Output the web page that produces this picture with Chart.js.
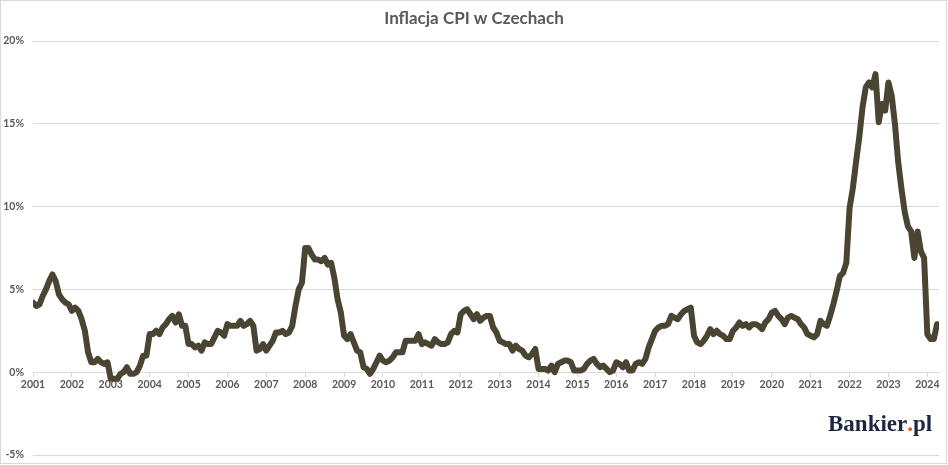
<!DOCTYPE html>
<html lang="pl">
<head>
<meta charset="utf-8">
<title>Inflacja CPI w Czechach</title>
<script src="https://cdn.jsdelivr.net/npm/chart.js@4.4.1/dist/chart.umd.min.js"></script>
<style>
  html, body { margin: 0; padding: 0; background: #fff; }
  #wrap { width: 948px; height: 465px; }
</style>
</head>
<body>
<div id="wrap"><canvas id="cpi-chart" width="948" height="465"></canvas></div>
<script>
// Monthly CPI y/y in % (Jan 2001 - Apr 2024)
const startYear = 2001;
const cpi2001 = [4.2, 4.0, 4.1, 4.6, 5.0, 5.5, 5.9, 5.5, 4.7, 4.4, 4.2, 4.1];
const cpi2002 = [3.7, 3.9, 3.7, 3.2, 2.5, 1.2, 0.6, 0.6, 0.8, 0.6, 0.5, 0.6];
const cpi2003 = [-0.4, -0.4, -0.4, -0.1, 0.0, 0.3, -0.1, -0.1, 0.0, 0.4, 1.0, 1.0];
const cpi2004 = [2.3, 2.3, 2.5, 2.3, 2.7, 2.9, 3.2, 3.4, 3.0, 3.5, 2.8, 2.8];
const cpi2005 = [1.7, 1.7, 1.5, 1.6, 1.3, 1.8, 1.7, 1.7, 2.1, 2.5, 2.4, 2.2];
const cpi2006 = [2.9, 2.8, 2.8, 2.8, 3.1, 2.8, 2.9, 3.1, 2.8, 1.3, 1.4, 1.7];
const cpi2007 = [1.3, 1.6, 1.9, 2.4, 2.4, 2.5, 2.3, 2.4, 2.8, 4.0, 5.0, 5.4];
const cpi2008 = [7.5, 7.5, 7.1, 6.8, 6.8, 6.7, 6.9, 6.5, 6.6, 5.7, 4.4, 3.6];
const cpi2009 = [2.2, 2.0, 2.3, 1.8, 1.3, 1.2, 0.3, 0.2, -0.1, 0.2, 0.6, 1.0];
const cpi2010 = [0.7, 0.6, 0.7, 0.9, 1.2, 1.2, 1.2, 1.9, 1.9, 1.9, 1.9, 2.3];
const cpi2011 = [1.7, 1.8, 1.7, 1.6, 2.0, 1.8, 1.7, 1.7, 1.8, 2.3, 2.5, 2.4];
const cpi2012 = [3.5, 3.7, 3.8, 3.5, 3.2, 3.5, 3.1, 3.3, 3.4, 3.4, 2.7, 2.4];
const cpi2013 = [1.9, 1.8, 1.7, 1.7, 1.3, 1.6, 1.4, 1.3, 1.0, 0.9, 1.1, 1.4];
const cpi2014 = [0.2, 0.2, 0.2, 0.1, 0.4, 0.0, 0.5, 0.6, 0.7, 0.7, 0.6, 0.1];
const cpi2015 = [0.1, 0.1, 0.2, 0.5, 0.7, 0.8, 0.5, 0.3, 0.4, 0.2, 0.0, 0.1];
const cpi2016 = [0.6, 0.5, 0.3, 0.6, 0.1, 0.1, 0.5, 0.6, 0.5, 0.8, 1.5, 2.0];
const cpi2017 = [2.5, 2.7, 2.8, 2.8, 2.9, 3.4, 3.3, 3.2, 3.5, 3.7, 3.8, 3.9];
const cpi2018 = [2.2, 1.8, 1.7, 1.9, 2.2, 2.6, 2.3, 2.5, 2.3, 2.2, 2.0, 2.0];
const cpi2019 = [2.5, 2.7, 3.0, 2.8, 2.9, 2.7, 2.9, 2.9, 2.8, 2.6, 3.0, 3.2];
const cpi2020 = [3.6, 3.7, 3.4, 3.2, 2.9, 3.3, 3.4, 3.3, 3.2, 2.9, 2.7, 2.3];
const cpi2021 = [2.2, 2.1, 2.3, 3.1, 2.9, 2.8, 3.4, 4.1, 4.9, 5.8, 6.0, 6.6];
const cpi2022 = [9.9, 11.1, 12.7, 14.2, 16.0, 17.2, 17.5, 17.2, 18.0, 15.1, 16.2, 15.8];
const cpi2023 = [17.5, 16.7, 15.0, 12.7, 11.1, 9.7, 8.8, 8.5, 6.9, 8.5, 7.3, 6.9];
const cpi2024 = [2.3, 2.0, 2.0, 2.9];

const yTicks = [-5, 0, 5, 10, 15, 20];

const textGray = '#595959';
const gridGray = '#d9d9d9';
const lineColor = '#4a4432';

/**
 * Joins the yearly arrays into one monthly series, x = month index
 */
function getMonthlyPoints() {
  const years = [cpi2001, cpi2002, cpi2003, cpi2004, cpi2005, cpi2006, cpi2007,
    cpi2008, cpi2009, cpi2010, cpi2011, cpi2012, cpi2013, cpi2014, cpi2015,
    cpi2016, cpi2017, cpi2018, cpi2019, cpi2020, cpi2021, cpi2022, cpi2023, cpi2024];
  const points = [];
  years.forEach((values) => {
    values.forEach((v) => {
      points.push({ x: points.length, y: v });
    });
  });
  return points;
}

// White background and thin frame round the whole picture
const framePlugin = {
  id: 'frame',
  beforeDraw(chart) {
    const { ctx, width, height } = chart;
    ctx.save();
    ctx.fillStyle = '#fff';
    ctx.fillRect(0, 0, width, height);
    ctx.strokeStyle = gridGray;
    ctx.lineWidth = 1;
    ctx.strokeRect(0.5, 0.5, width - 2, height - 2);
    ctx.restore();
  },
};

// Bankier.pl logo, bottom right
const logoPlugin = {
  id: 'logo',
  afterDraw(chart) {
    const { ctx } = chart;
    ctx.save();
    ctx.font = 'bold 23px "Liberation Serif", "DejaVu Serif", serif';
    ctx.textBaseline = 'alphabetic';
    let x = 828;
    const y = 431;
    ctx.fillStyle = '#1c2541';
    ctx.fillText('Bankier', x, y);
    x += ctx.measureText('Bankier').width;
    ctx.fillStyle = '#e8501f';
    ctx.fillText('.', x, y);
    x += ctx.measureText('.').width;
    ctx.fillStyle = '#1c2541';
    ctx.fillText('pl', x, y);
    ctx.restore();
  },
};

function createChart() {
  const canvas = document.getElementById('cpi-chart');
  const points = getMonthlyPoints();

  return new Chart(canvas.getContext('2d'), {
    type: 'line',
    data: {
      datasets: [{
        label: 'CPI',
        data: points,
        borderColor: lineColor,
        borderWidth: 6,
        borderJoinStyle: 'round',
        borderCapStyle: 'round',
        pointRadius: 0,
        tension: 0,
        fill: false,
      }],
    },
    options: {
      responsive: false,
      animation: false,
      layout: {
        padding: { left: 0, right: 0, top: 0, bottom: 10 },
      },
      plugins: {
        legend: { display: false },
        tooltip: { enabled: false },
        title: {
          display: true,
          text: 'Inflacja CPI w Czechach',
          color: textGray,
          font: { family: 'Lato', size: 17, weight: 'bold' },
          padding: { top: 8, bottom: 12.6 },
        },
      },
      scales: {
        x: {
          type: 'linear',
          position: { y: 0 },
          bounds: 'data',
          min: 0,
          max: points.length - 0.4,
          afterFit: (scale) => {
            // axis sits on the 0% line, it needs no room at the bottom
            scale.height = 0;
          },
          ticks: {
            stepSize: 12,
            includeBounds: false,
            autoSkip: false,
            maxRotation: 0,
            padding: 2,
            color: textGray,
            font: { family: 'Lato', size: 10.5, weight: 'bold' },
            callback: (value) => String(startYear + value / 12),
          },
          grid: {
            drawOnChartArea: false,
            drawTicks: true,
            tickLength: 4,
            color: gridGray,
          },
          border: { color: gridGray },
        },
        y: {
          min: yTicks[0],
          max: yTicks[yTicks.length - 1],
          afterBuildTicks: (scale) => {
            scale.ticks = yTicks.map((v) => ({ value: v }));
          },
          afterFit: (scale) => {
            scale.width = 33;
          },
          ticks: {
            padding: 0,
            color: textGray,
            font: { family: 'Lato', size: 10.5, weight: 'bold' },
            callback: (value) => `${value}%`,
          },
          // invisible tick marks keep the labels 9px off the plot
          grid: {
            color: gridGray,
            drawTicks: true,
            tickLength: 9,
            tickColor: 'rgba(0,0,0,0)',
          },
          border: { display: false },
        },
        // empty right axis, only a 9px margin so the title stays centred on the page
        yRight: {
          position: 'right',
          min: yTicks[0],
          max: yTicks[yTicks.length - 1],
          afterFit: (scale) => {
            scale.width = 9;
          },
          ticks: { display: false },
          grid: { drawOnChartArea: false, drawTicks: false },
          border: { display: false },
        },
      },
    },
    plugins: [framePlugin, logoPlugin],
  });
}

document.addEventListener('DOMContentLoaded', () => {
  createChart();
});
</script>
</body>
</html>
